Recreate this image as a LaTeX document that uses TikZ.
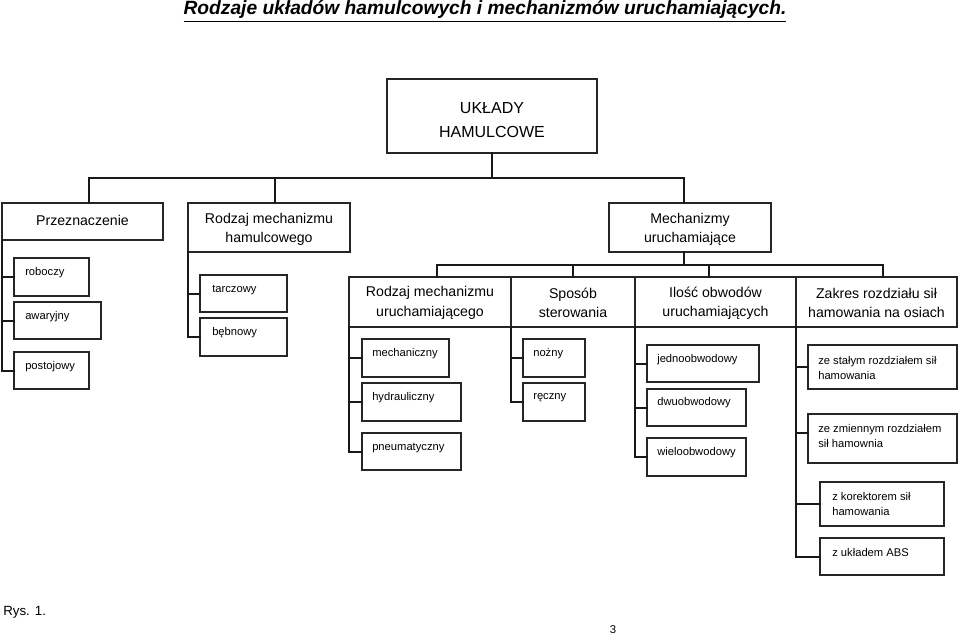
\documentclass[tikz,border=0pt]{standalone}
\usepackage{fontspec}
\setmainfont{Liberation Sans}
\usetikzlibrary{fit}
\begin{document}
\begin{tikzpicture}[x=0.75pt,y=-0.75pt,
  bx/.style={draw=black!85, line width=1.35pt, inner sep=0pt, outer sep=0pt},
  mt/.style={font=\fontsize{10.6}{14.6}\selectfont, align=center, inner sep=0pt},
  st/.style={font=\fontsize{8.4}{11.25}\selectfont, anchor=west, align=left, inner sep=0pt},
  ln/.style={draw=black!90, line width=1.5pt, line cap=rect}]
\useasboundingbox (0,0) rectangle (960,635);

% title
\node[inner sep=0pt, anchor=base] (title) at (485,15) {\fontsize{14.4}{16}\selectfont\bfseries\itshape\underline{Rodzaje układów hamulcowych i mechanizmów uruchamiających.}};

% top box
\node[bx, fit={(387,79) (597,153)}] (top) {};
\node[font=\fontsize{12}{18}\selectfont, align=center, inner sep=0pt] (topt) at (492,120) {UKŁADY\\HAMULCOWE};

% level 2
\node[bx, fit={(2,203) (163,240)}] (przez) {};
\node[bx, fit={(188,203) (350,252)}] (rham) {};
\node[bx, fit={(609,203) (771,252)}] (mech) {};
\node[mt] (przezt) at (82.5,220) {Przeznaczenie};
\node[mt] (rhamt) at (269,229.5) {Rodzaj mechanizmu\\hamulcowego};
\node[mt] (mecht) at (690,229.5) {Mechanizmy\\uruchamiające};

% level 3
\node[bx, fit={(349,277) (511,327)}] (ruch) {};
\node[bx, fit={(511,277) (635,327)}] (spos) {};
\node[bx, fit={(635,277) (796,327)}] (ilos) {};
\node[bx, fit={(796,277) (957,327)}] (zakr) {};
\node[mt] (rucht) at (430,303) {Rodzaj mechanizmu\\uruchamiającego};
\node[mt] (spost) at (573,303) {Sposób\\sterowania};
\node[mt] (ilost) at (715.5,303) {Ilość obwodów\\uruchamiających};
\node[mt] (zakrt) at (876.5,303) {Zakres rozdziału sił\\hamowania na osiach};

% small boxes
\node[bx, fit={(14,258) (89,296)}] (rob) {};
\node[bx, fit={(14,302) (101,339)}] (awa) {};
\node[bx, fit={(14,352) (89,389)}] (post) {};
\node[bx, fit={(200,275) (287,312)}] (tar) {};
\node[bx, fit={(200,318) (287,356)}] (beb) {};
\node[bx, fit={(362,339) (449,377)}] (mchn) {};
\node[bx, fit={(362,383) (461,421)}] (hyd) {};
\node[bx, fit={(362,433) (461,470)}] (pne) {};
\node[bx, fit={(523,339) (585,377)}] (noz) {};
\node[bx, fit={(523,383) (585,421)}] (rec) {};
\node[bx, fit={(647,345) (759,382)}] (jed) {};
\node[bx, fit={(647,389) (746,426)}] (dwu) {};
\node[bx, fit={(647,438) (746,476)}] (wie) {};
\node[bx, fit={(808,345) (957,389)}] (sta) {};
\node[bx, fit={(808,414) (957,463)}] (zmi) {};
\node[bx, fit={(820,482) (944,526)}] (kor) {};
\node[bx, fit={(820,538) (944,575)}] (abs) {};

% small texts
\node[st] (robt) at ([shift={(11,15)}]rob.north west) {roboczy};
\node[st] (awat) at ([shift={(11,15)}]awa.north west) {awaryjny};
\node[st] (postt) at ([shift={(11,15)}]post.north west) {postojowy};
\node[st] (tart) at ([shift={(12,15)}]tar.north west) {tarczowy};
\node[st] (bebt) at ([shift={(12,15)}]beb.north west) {bębnowy};
\node[st] (mchnt) at ([shift={(10,15)}]mchn.north west) {mechaniczny};
\node[st] (hydt) at ([shift={(10,15)}]hyd.north west) {hydrauliczny};
\node[st] (pnet) at ([shift={(10,15)}]pne.north west) {pneumatyczny};
\node[st] (nozt) at ([shift={(10,15)}]noz.north west) {nożny};
\node[st] (rect) at ([shift={(10,15)}]rec.north west) {ręczny};
\node[st] (jedt) at ([shift={(10,15)}]jed.north west) {jednoobwodowy};
\node[st] (dwut) at ([shift={(10,14)}]dwu.north west) {dwuobwodowy};
\node[st] (wiet) at ([shift={(10,15)}]wie.north west) {wieloobwodowy};
\node[st] (stat) at ([shift={(10,22.5)}]sta.north west) {ze stałym rozdziałem sił\\hamowania};
\node[st] (zmit) at ([shift={(10,22)}]zmi.north west) {ze zmiennym rozdziałem\\sił hamownia};
\node[st] (kort) at ([shift={(12,22)}]kor.north west) {z korektorem sił\\hamowania};
\node[st] (abst) at ([shift={(12,14)}]abs.north west) {z układem ABS};

% top bus
\coordinate (bL) at (89,178);
\coordinate (bM) at (275,178);
\coordinate (bR) at (684,178);
\draw[ln] (top.south) -- (top.south |- bL);
\draw[ln] (przez.north -| bL) -- (bL) -- (bR) -- (mech.north -| bR);
\draw[ln] (bM) -- (rham.north -| bM);

% second bus
\coordinate (cL) at (437,265);
\coordinate (cA) at (573,265);
\coordinate (cB) at (709,265);
\coordinate (cR) at (883,265);
\draw[ln] (mech.south -| bR) -- (cL -| bR);
\draw[ln] (ruch.north -| cL) -- (cL) -- (cR) -- (zakr.north -| cR);
\draw[ln] (cA) -- (spos.north -| cA);
\draw[ln] (cB) -- (ilos.north -| cB);

% child connectors
\draw[ln] (przez.south west) |- (post.west);
\draw[ln] (rob.west) -- (rob.west -| przez.west);
\draw[ln] (awa.west) -- (awa.west -| przez.west);

\draw[ln] (rham.south west) |- (beb.west);
\draw[ln] (tar.west) -- (tar.west -| rham.west);

\draw[ln] (ruch.south west) |- (pne.west);
\draw[ln] (mchn.west) -- (mchn.west -| ruch.west);
\draw[ln] (hyd.west) -- (hyd.west -| ruch.west);

\draw[ln] (spos.south west) |- (rec.west);
\draw[ln] (noz.west) -- (noz.west -| spos.west);

\draw[ln] (ilos.south west) |- (wie.west);
\draw[ln] (jed.west) -- (jed.west -| ilos.west);
\draw[ln] (dwu.west) -- (dwu.west -| ilos.west);

\draw[ln] (zakr.south west) |- (abs.west);
\draw[ln] (sta.west) -- (sta.west -| zakr.west);
\draw[ln] ([yshift=4.5pt]zmi.west) -- ([yshift=4.5pt]zmi.west -| zakr.west);
\draw[ln] (kor.west) -- (kor.west -| zakr.west);

% footer
\node[anchor=west, inner sep=0pt, font=\fontsize{10}{12}\selectfont] (rys) at (3,612) {Rys. 1.};
\node[inner sep=0pt, font=\fontsize{8.5}{10}\selectfont] (pg) at (613,630) {3};
\end{tikzpicture}
\end{document}
